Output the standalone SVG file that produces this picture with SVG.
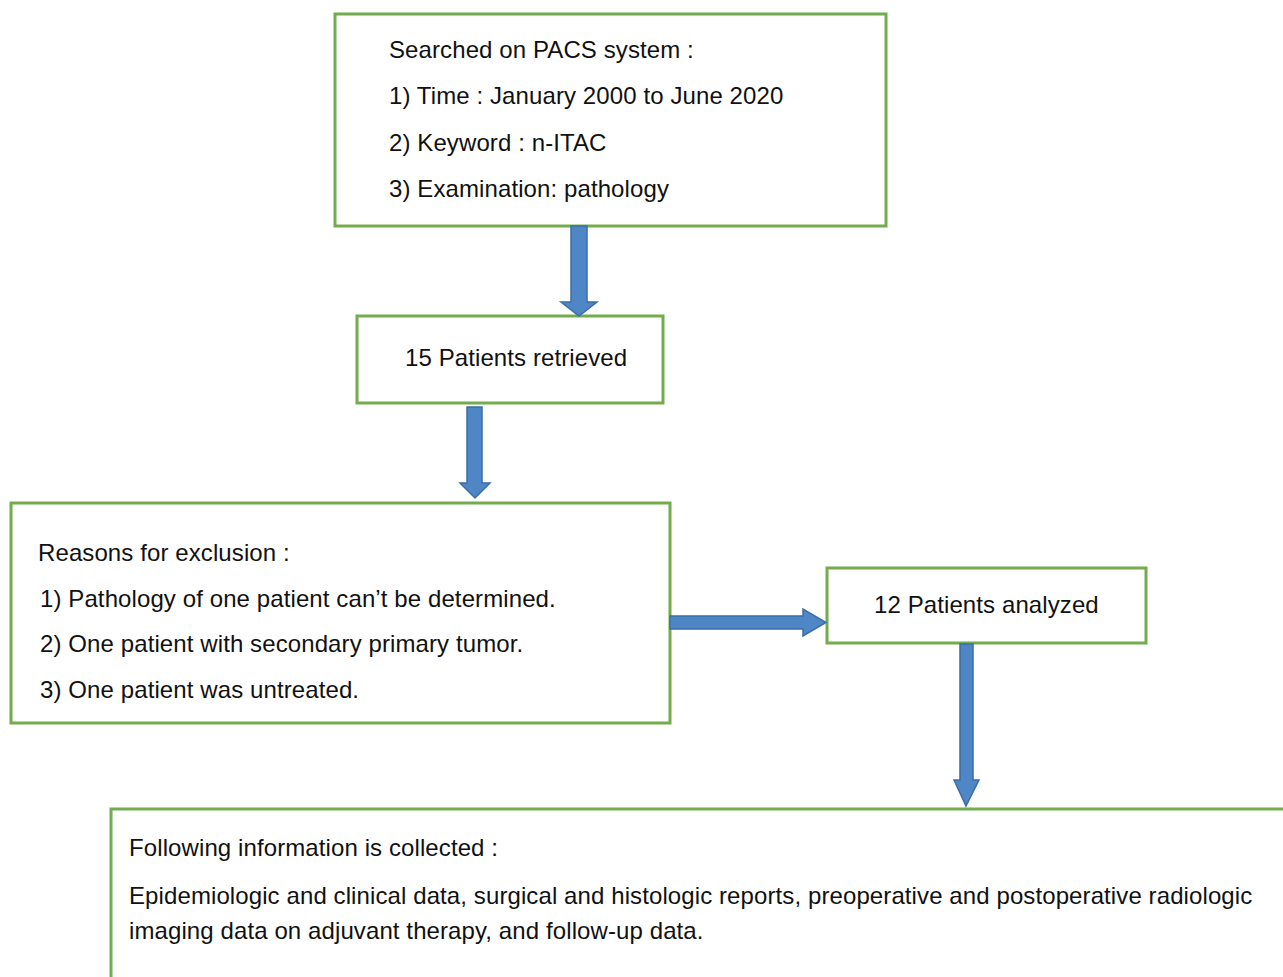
<svg xmlns="http://www.w3.org/2000/svg" width="1283" height="977" viewBox="0 0 1283 977">
<style>
.box{fill:#fff;stroke:#72ac4d;stroke-width:3}
.t{font-family:"Liberation Sans",Arial,sans-serif;font-size:24px;letter-spacing:0.1px;fill:#111}
.arr{fill:#4f87c6;stroke:#3b6ea5;stroke-width:1.5;stroke-linejoin:miter}
</style>
<rect width="1283" height="977" fill="#fff"/>
<g id="n1">
<rect class="box" x="335" y="14" width="551" height="212"/>
<text class="t" x="389" y="58">Searched on PACS system :</text>
<text class="t" x="389" y="104">1) Time : January 2000 to June 2020</text>
<text class="t" x="389" y="151">2) Keyword : n-ITAC</text>
<text class="t" x="389" y="197">3) Examination: pathology</text>
</g>
<g id="n2">
<rect class="box" x="357" y="316" width="306" height="87"/>
<text class="t" x="405" y="366">15 Patients retrieved</text>
</g>
<g id="n3">
<rect class="box" x="11" y="503" width="659" height="220"/>
<text class="t" x="38" y="561">Reasons for exclusion :</text>
<text class="t" x="40" y="607">1) Pathology of one patient can’t be determined.</text>
<text class="t" x="40" y="652">2) One patient with secondary primary tumor.</text>
<text class="t" x="40" y="698">3) One patient was untreated.</text>
</g>
<g id="n4">
<rect class="box" x="827" y="568" width="319" height="75"/>
<text class="t" x="874" y="613">12 Patients analyzed</text>
</g>
<g id="n5">
<rect class="box" x="111" y="809" width="1190" height="200"/>
<text class="t" x="129" y="856">Following information is collected :</text>
<text class="t" x="129" y="904">Epidemiologic and clinical data, surgical and histologic reports, preoperative and postoperative radiologic</text>
<text class="t" x="129" y="939">imaging data on adjuvant therapy, and follow-up data.</text>
</g>
<g id="connectors">
<path class="arr" d="M571,226 H587 V302 H597 L579,316 L561,302 H571 Z"/>
<path class="arr" d="M467,407 H482 V483 H490 L475,498 L460,483 H467 Z"/>
<path class="arr" d="M670,616 H803 V609 L826,622.5 L803,636 V629 H670 Z"/>
<path class="arr" d="M960,644 H973 V780 H979 L966,806 L954,780 H960 Z"/>
</g>
</svg>
